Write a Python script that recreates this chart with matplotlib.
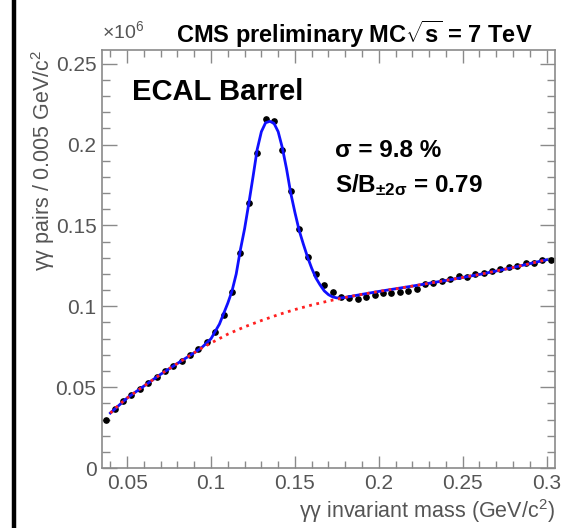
import matplotlib
matplotlib.use("Agg")
import matplotlib.pyplot as plt
from matplotlib.ticker import MultipleLocator
from matplotlib.lines import Line2D

plt.rcParams['font.family'] = ['Liberation Sans', 'DejaVu Sans']
plt.rcParams['mathtext.fontset'] = 'custom'
plt.rcParams['mathtext.rm'] = 'Liberation Sans'
plt.rcParams['mathtext.bf'] = 'Liberation Sans:bold'
plt.rcParams['mathtext.it'] = 'Liberation Sans:italic'

# diphoton mass bin centres (GeV/c^2) and counts (x 10^6)
mass = [0.0375, 0.0425, 0.0475, 0.0525, 0.0575, 0.0625, 0.0675, 0.0725, 0.0775,
        0.0825, 0.0875, 0.0925, 0.0975, 0.1025, 0.1075, 0.1125, 0.1175, 0.1225,
        0.1275, 0.1325, 0.1375, 0.1425, 0.1475, 0.1525, 0.1575, 0.1625, 0.1675,
        0.1725, 0.1775, 0.1825, 0.1875, 0.1925, 0.1975, 0.2025, 0.2075, 0.2125,
        0.2175, 0.2225, 0.2275, 0.2325, 0.2375, 0.2425, 0.2475, 0.2525, 0.2575,
        0.2625, 0.2675, 0.2725, 0.2775, 0.2825, 0.2875, 0.2925, 0.2975, 0.3025]
pairs = [0.0300, 0.0364, 0.0416, 0.0450, 0.0488, 0.0525, 0.0562, 0.0600, 0.0628,
         0.0662, 0.0698, 0.0735, 0.0780, 0.0844, 0.0944, 0.1090, 0.1330, 0.1636,
         0.1950, 0.2160, 0.2148, 0.1965, 0.1710, 0.1480, 0.1307, 0.1198, 0.1132,
         0.1089, 0.1060, 0.1052, 0.1043, 0.1060, 0.1068, 0.1080, 0.1085, 0.1090,
         0.1095, 0.1110, 0.1136, 0.1146, 0.1156, 0.1167, 0.1187, 0.1180, 0.1200,
         0.1208, 0.1218, 0.1233, 0.1243, 0.1250, 0.1270, 0.1265, 0.1284, 0.1284]

# background fit (red dotted)
bkg_x = [0.040, 0.045, 0.050, 0.055, 0.060, 0.065, 0.070, 0.075, 0.080, 0.085,
         0.090, 0.095, 0.100, 0.110, 0.120, 0.130, 0.140, 0.150, 0.160, 0.170,
         0.180, 0.190, 0.200, 0.220, 0.240, 0.260, 0.280, 0.300]
bkg_y = [0.0340, 0.0390, 0.0433, 0.0470, 0.0507, 0.0543, 0.0580, 0.0614, 0.0647, 0.0680,
         0.0713, 0.0745, 0.0773, 0.0828, 0.0873, 0.0912, 0.0948, 0.0980, 0.1008, 0.1033,
         0.1055, 0.1074, 0.1092, 0.1125, 0.1160, 0.1197, 0.1240, 0.1288]

# signal + background fit (blue)
fit_x = [0.040, 0.050, 0.060, 0.070, 0.080, 0.090, 0.095, 0.100, 0.1025, 0.105,
         0.1075, 0.110, 0.1125, 0.115, 0.1175, 0.120, 0.1225, 0.125, 0.1275, 0.130,
         0.1325, 0.135, 0.1375, 0.140, 0.1425, 0.145, 0.1475, 0.150, 0.1525, 0.155,
         0.1575, 0.160, 0.1625, 0.165, 0.1675, 0.170, 0.1725, 0.175, 0.1775, 0.180,
         0.190, 0.200, 0.220, 0.240, 0.260, 0.280, 0.300]
fit_y = [0.0340, 0.0433, 0.0507, 0.0580, 0.0647, 0.0713, 0.0750, 0.0800, 0.0845, 0.0890,
         0.0955, 0.1020, 0.1095, 0.1200, 0.1350, 0.1480, 0.1636, 0.1800, 0.1970, 0.2080,
         0.2135, 0.2144, 0.2132, 0.2080, 0.1980, 0.1850, 0.1700, 0.1580, 0.1470, 0.1385,
         0.1305, 0.1235, 0.1175, 0.1132, 0.1095, 0.1072, 0.1058, 0.1052, 0.1052, 0.1055,
         0.1074, 0.1092, 0.1125, 0.1160, 0.1197, 0.1240, 0.1288]

grey = '#555555'
frame = '#8a8a8a'

fig = plt.figure(figsize=(5.62, 5.28), dpi=100)
ax = fig.add_axes([0.1815, 0.1136, 0.806, 0.7917])

ax.plot(mass, pairs, 'o', color='black', ms=3.8, zorder=2)
ax.plot(fit_x, fit_y, '-', color='#1010ff', lw=2.0, zorder=3)
ax.plot(bkg_x, bkg_y, ':', color='#ff2020', lw=2.0, zorder=4)

ax.set_xlim(0.035, 0.305)
ax.set_ylim(0, 0.2585)

ax.xaxis.set_major_locator(MultipleLocator(0.05))
ax.xaxis.set_minor_locator(MultipleLocator(0.01))
ax.yaxis.set_major_locator(MultipleLocator(0.05))
ax.yaxis.set_minor_locator(MultipleLocator(0.01))
ax.set_xticks([0.05, 0.1, 0.15, 0.2, 0.25, 0.3])
ax.set_xticklabels(['0.05', '0.1', '0.15', '0.2', '0.25', '0.3'])
ax.set_yticks([0, 0.05, 0.1, 0.15, 0.2, 0.25])
ax.set_yticklabels(['0', '0.05', '0.1', '0.15', '0.2', '0.25'])

ax.tick_params(which='both', direction='in', top=True, right=True, color=frame,
               labelcolor=grey, labelsize=15, width=1.0)
ax.tick_params(axis='y', which='major', length=11, pad=4)
ax.tick_params(axis='y', which='minor', length=6)
ax.tick_params(axis='x', which='major', length=9, pad=4)
ax.tick_params(axis='x', which='minor', length=5)
for s in ax.spines.values():
    s.set_color(frame)
    s.set_linewidth(1.2)

ax.set_xlabel('γγ invariant mass (GeV/c$^{2}$)', fontsize=15.5, color=grey, loc='right', labelpad=3)
ax.set_ylabel('γγ pairs / 0.005 GeV/c$^{2}$', fontsize=15.5, color=grey, loc='top', labelpad=-1)

ax.text(0.0, 1.018, r'$\times$10$^{6}$', transform=ax.transAxes, fontsize=14,
        color=grey, ha='left', va='bottom')
fig.text(0.947, 0.918, r'CMS preliminary MC$\sqrt{\mathbf{s}}$ = 7 TeV', fontsize=17,
         fontweight='bold', ha='right', va='baseline')
ax.text(0.066, 0.880, 'ECAL Barrel', transform=ax.transAxes, fontsize=21,
        fontweight='bold', ha='left', va='baseline')
ax.text(0.515, 0.744, 'σ = 9.8 %', transform=ax.transAxes, fontsize=17.5,
        fontweight='bold', ha='left', va='baseline')
ax.text(0.515, 0.66, r'S/B$_{\mathbf{±2σ}}$ = 0.79', transform=ax.transAxes, fontsize=17.5,
        fontweight='bold', ha='left', va='baseline')

# thick black bar along the left edge of the picture
fig.add_artist(Line2D([0.025, 0.025], [0, 1], transform=fig.transFigure,
                      color='black', lw=3.2))

fig.savefig('out.png', dpi=100)
